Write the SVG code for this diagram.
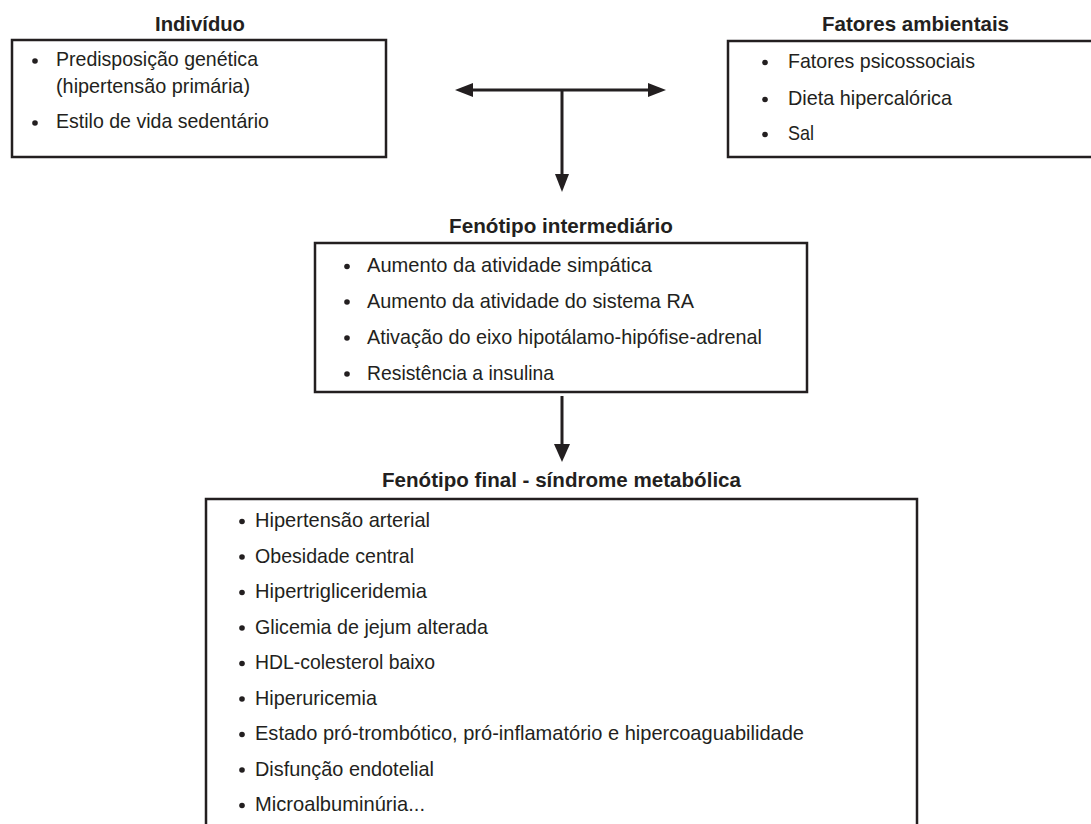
<svg xmlns="http://www.w3.org/2000/svg" width="1091" height="824" viewBox="0 0 1091 824">
<defs>
<style>
.box{fill:none;stroke:#231f20;stroke-width:2.5}
.t{font-family:"Liberation Sans",Arial,sans-serif;font-weight:bold;font-size:21px;fill:#231f20}
.i{font-family:"Liberation Sans",Arial,sans-serif;font-size:21px;fill:#231f20}
.b{fill:#231f20}
.ln{stroke:#231f20;stroke-width:3;fill:none}
.ah{fill:#231f20}
</style>
</defs>
<rect width="1091" height="824" fill="#ffffff"/>

<g id="individuo">
<text class="t" x="155" y="31" textLength="90" lengthAdjust="spacingAndGlyphs">Indivíduo</text>
<rect class="box" x="12" y="40" width="374" height="117"/>
<circle class="b" cx="35" cy="61" r="2.8"/>
<text class="i" x="56" y="66" textLength="202" lengthAdjust="spacingAndGlyphs">Predisposição genética</text>
<text class="i" x="56" y="93" textLength="194" lengthAdjust="spacingAndGlyphs">(hipertensão primária)</text>
<circle class="b" cx="35" cy="123" r="2.8"/>
<text class="i" x="56" y="128" textLength="213" lengthAdjust="spacingAndGlyphs">Estilo de vida sedentário</text>
</g>

<g id="fatores-ambientais">
<text class="t" x="822" y="31" textLength="187" lengthAdjust="spacingAndGlyphs">Fatores ambientais</text>
<rect class="box" x="728" y="41" width="370" height="116"/>
<circle class="b" cx="765" cy="62.5" r="2.8"/>
<text class="i" x="788" y="68" textLength="187" lengthAdjust="spacingAndGlyphs">Fatores psicossociais</text>
<circle class="b" cx="765" cy="99.5" r="2.8"/>
<text class="i" x="788" y="105" textLength="164" lengthAdjust="spacingAndGlyphs">Dieta hipercalórica</text>
<circle class="b" cx="765" cy="134.5" r="2.8"/>
<text class="i" x="788" y="140" textLength="26" lengthAdjust="spacingAndGlyphs">Sal</text>
</g>

<g id="fenotipo-intermediario">
<text class="t" x="449" y="233" textLength="224" lengthAdjust="spacingAndGlyphs">Fenótipo intermediário</text>
<rect class="box" x="315" y="243" width="492" height="149"/>
<circle class="b" cx="347" cy="266.5" r="2.8"/>
<text class="i" x="367" y="272" textLength="285" lengthAdjust="spacingAndGlyphs">Aumento da atividade simpática</text>
<circle class="b" cx="347" cy="302" r="2.8"/>
<text class="i" x="367" y="307.5" textLength="327" lengthAdjust="spacingAndGlyphs">Aumento da atividade do sistema RA</text>
<circle class="b" cx="347" cy="338" r="2.8"/>
<text class="i" x="367" y="343.5" textLength="395" lengthAdjust="spacingAndGlyphs">Ativação do eixo hipotálamo-hipófise-adrenal</text>
<circle class="b" cx="347" cy="374" r="2.8"/>
<text class="i" x="367" y="379.5" textLength="187" lengthAdjust="spacingAndGlyphs">Resistência a insulina</text>
</g>

<g id="fenotipo-final">
<text class="t" x="382" y="487" textLength="359" lengthAdjust="spacingAndGlyphs">Fenótipo final - síndrome metabólica</text>
<rect class="box" x="206" y="499" width="711" height="340"/>
<circle class="b" cx="242" cy="521.5" r="2.8"/>
<text class="i" x="255" y="527" textLength="175" lengthAdjust="spacingAndGlyphs">Hipertensão arterial</text>
<circle class="b" cx="242" cy="557" r="2.8"/>
<text class="i" x="255" y="562.5" textLength="159" lengthAdjust="spacingAndGlyphs">Obesidade central</text>
<circle class="b" cx="242" cy="592.5" r="2.8"/>
<text class="i" x="255" y="598" textLength="172" lengthAdjust="spacingAndGlyphs">Hipertrigliceridemia</text>
<circle class="b" cx="242" cy="628" r="2.8"/>
<text class="i" x="255" y="633.5" textLength="233" lengthAdjust="spacingAndGlyphs">Glicemia de jejum alterada</text>
<circle class="b" cx="242" cy="663.5" r="2.8"/>
<text class="i" x="255" y="669" textLength="180" lengthAdjust="spacingAndGlyphs">HDL-colesterol baixo</text>
<circle class="b" cx="242" cy="699" r="2.8"/>
<text class="i" x="255" y="704.5" textLength="122" lengthAdjust="spacingAndGlyphs">Hiperuricemia</text>
<circle class="b" cx="242" cy="734.5" r="2.8"/>
<text class="i" x="255" y="740" textLength="549" lengthAdjust="spacingAndGlyphs">Estado pró-trombótico, pró-inflamatório e hipercoaguabilidade</text>
<circle class="b" cx="242" cy="770" r="2.8"/>
<text class="i" x="255" y="775.5" textLength="179" lengthAdjust="spacingAndGlyphs">Disfunção endotelial</text>
<circle class="b" cx="242" cy="805.5" r="2.8"/>
<text class="i" x="255" y="811" textLength="170" lengthAdjust="spacingAndGlyphs">Microalbuminúria...</text>
</g>

<g id="connectors">
<line class="ln" x1="470" y1="90" x2="650" y2="90"/>
<polygon class="ah" points="455,90 473,83 473,97"/>
<polygon class="ah" points="666,90 648,83 648,97"/>
<line class="ln" x1="562" y1="90" x2="562" y2="176"/>
<polygon class="ah" points="562,192 555,174 569,174"/>
<line class="ln" x1="562" y1="396" x2="562" y2="446"/>
<polygon class="ah" points="562,462 554,444 570,444"/>
</g>
</svg>
